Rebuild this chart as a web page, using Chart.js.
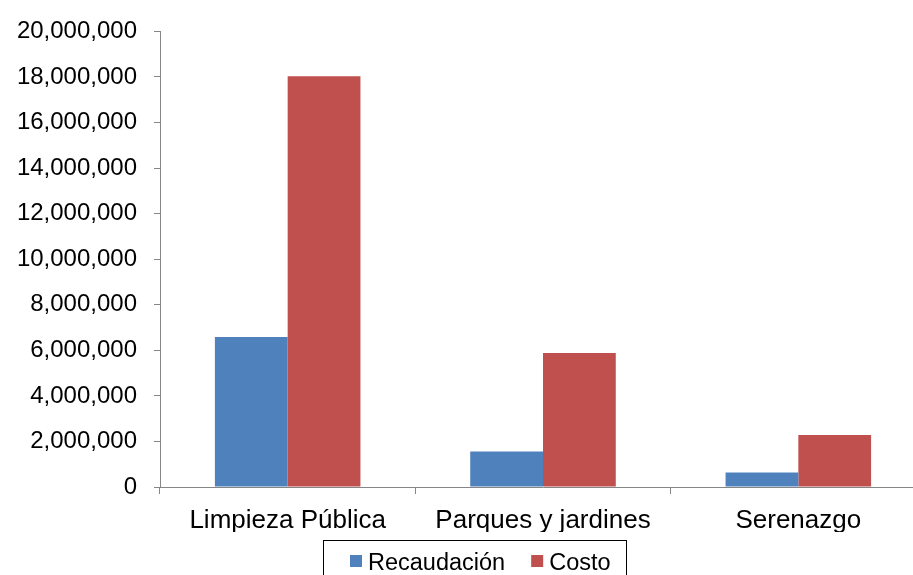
<!DOCTYPE html>
<html>
<head>
<meta charset="utf-8">
<script src="https://cdn.jsdelivr.net/npm/chart.js@4/dist/chart.umd.min.js"></script>
<style>
  html, body { margin: 0; padding: 0; background: #fff; overflow: hidden; }
  #wrap { width: 926px; height: 575px; position: relative; }
</style>
</head>
<body>
<div id="wrap"><canvas id="myChart"></canvas></div>
<script>
// dati
const categorie = ['Limpieza Pública', 'Parques y jardines', 'Serenazgo'];
const recaudacion = [6590000, 1560000, 640000];
const costo = [18030000, 5880000, 2280000];
const serie = ['Recaudación', 'Costo'];

const FAMIGLIA = '"Liberation Sans", Arial, sans-serif';
const GRIGIO = '#868686';

// legenda con bordo (come in Excel)
const legendaBox = {
  id: 'legendaBox',
  afterDraw(chart) {
    const ctx = chart.ctx;
    ctx.save();
    ctx.strokeStyle = '#000';
    ctx.lineWidth = 1;
    ctx.strokeRect(323.5, 540.5, 303, 60);
    ctx.font = '23.5px ' + FAMIGLIA;
    ctx.textBaseline = 'alphabetic';
    let x = 350;
    chart.data.datasets.forEach(ds => {
      ctx.fillStyle = ds.backgroundColor;
      ctx.fillRect(x, 555, 12, 12);
      ctx.fillStyle = '#000';
      ctx.fillText(ds.label, x + 18, 570);
      x += 18 + ctx.measureText(ds.label).width + 26;
    });
    ctx.restore();
  }
};

const ctx = document.getElementById('myChart');

new Chart(ctx, {
  type: 'bar',
  data: {
    labels: categorie,
    datasets: [{
      label: serie[0],
      data: recaudacion,
      backgroundColor: '#4F81BD'
    }, {
      label: serie[1],
      data: costo,
      backgroundColor: '#C0504D'
    }]
  },
  options: {
    responsive: true,
    maintainAspectRatio: false,
    animation: false,
    layout: { padding: { top: 27, left: 0, right: 0, bottom: 43 } },
    datasets: { bar: { categoryPercentage: 0.57, barPercentage: 1.0 } },
    plugins: {
      legend: { display: false },
      tooltip: { enabled: false }
    },
    scales: {
      x: {
        grid: { offset: true, drawOnChartArea: false, tickLength: 7, color: GRIGIO },
        border: { color: GRIGIO, width: 1 },
        ticks: { font: { family: FAMIGLIA, size: 26 }, color: '#000', padding: 11, maxRotation: 0 },
        afterFit(scale) { scale.height = 45; }
      },
      y: {
        min: 0,
        max: 20000000,
        grid: { drawOnChartArea: false, tickLength: 6, color: GRIGIO },
        border: { color: GRIGIO, width: 1 },
        ticks: {
          stepSize: 2000000,
          font: { family: FAMIGLIA, size: 24 },
          color: '#000',
          padding: 17,
          callback: v => v.toLocaleString('en-US')
        },
        afterFit(scale) { scale.width = 160; }
      }
    }
  },
  plugins: [legendaBox]
});
</script>
</body>
</html>
